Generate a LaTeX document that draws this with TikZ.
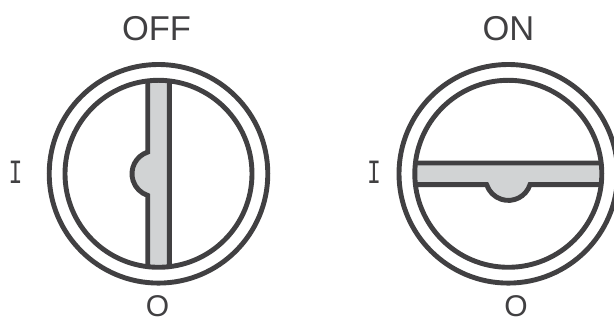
\documentclass[tikz,border=0pt]{standalone}
\usepackage{fontspec}
\setmainfont{Liberation Sans}
\newfontfamily\slabfont{Liberation Mono}
\definecolor{ink}{HTML}{414042}
\definecolor{barfill}{HTML}{D1D3D4}
\tikzset{
  ring/.style={draw=ink,line width=4.9pt},
  keybar/.style={draw=ink,fill=barfill,line width=4.9pt,line join=miter},
  title/.style={text=ink,font=\fontsize{34.5}{34.5}\selectfont,inner sep=0pt},
  mark O/.style={text=ink,font=\fontsize{30}{30}\selectfont,inner sep=0pt},
  mark I/.style={text=ink,font=\slabfont\fontsize{34}{34}\selectfont,inner sep=0pt,xscale=0.68}
}
\begin{document}
\begin{tikzpicture}[x=1pt,y=1pt]
\useasboundingbox (0,0) rectangle (614,320);
% OFF switch
\coordinate (c1) at (158.5,146.2);
\begin{scope}
  \clip (c1) circle[radius=93.5];
  \path[keybar] (147.7,240) -- (147.7,167.9) arc[start angle=108.1,end angle=251.9,radius=22.8]
    -- (147.7,50) -- (169.3,50) -- (169.3,240) -- cycle;
\end{scope}
\draw[ring] (c1) circle[radius=93.5];
\draw[ring] (c1) circle[radius=109.3];
\node[title] (off) at (156.5,291) {OFF};
\node[mark I] (i1) at (15.5,148) {I};
\node[mark O] (o1) at (157.5,13.5) {O};
% ON switch
\coordinate (c2) at (508.3,146.2);
\begin{scope}
  \clip (c2) circle[radius=93.5];
  \path[keybar] (410,157) -- (610,157) -- (610,135.3) -- (530,135.3)
    arc[start angle=341.9,end angle=198.1,radius=22.8]
    -- (410,135.3) -- cycle;
\end{scope}
\draw[ring] (c2) circle[radius=93.5];
\draw[ring] (c2) circle[radius=109.3];
\node[title] (on) at (508.5,291) {ON};
\node[mark I] (i2) at (374,148) {I};
\node[mark O] (o2) at (516,13.5) {O};
\end{tikzpicture}
\end{document}
